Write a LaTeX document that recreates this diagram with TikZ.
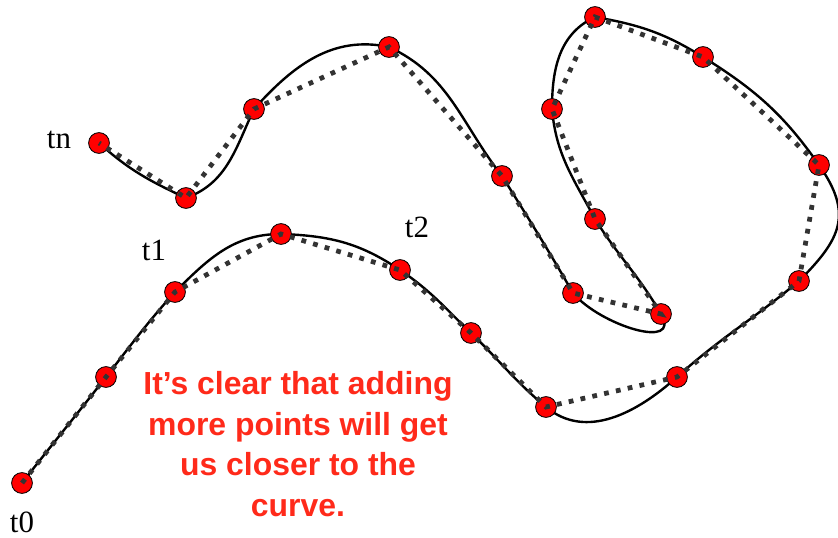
\documentclass[tikz,border=0pt]{standalone}
\usepackage{fontspec}
\setmainfont{Liberation Serif}
\newfontfamily\notefont{Liberation Sans}
\usetikzlibrary{backgrounds}
\definecolor{dotred}{HTML}{FF0000}
\definecolor{notered}{HTML}{FF2A1A}
\definecolor{chordgray}{HTML}{333333}

\begin{document}
\begin{tikzpicture}[
  x=0.025cm, y=0.025cm,
  sample/.style={
    circle, draw=black, line width=0.6pt, fill=dotred,
    minimum size=0.52cm, inner sep=0pt
  },
  truecurve/.style={draw=black, line width=1.7pt},
  chord/.style={draw=chordgray, line width=3.4pt, dash pattern=on 3.4pt off 5.2pt},
  tlbl/.style={font=\fontsize{22}{24}\selectfont, anchor=base, inner sep=0pt},
  note/.style={font=\notefont\bfseries\fontsize{22.7}{29}\selectfont,
    text=notered, align=center},
]

\useasboundingbox (0,0) rectangle (838,-538);

% =============================================
% Sample points along the curve (t0 ... tn)
% =============================================
\node[sample] (p0)  at (22,-483)  {};
\node[sample] (p1)  at (106,-377) {};
\node[sample] (p2)  at (175,-292) {};
\node[sample] (p3)  at (281,-234) {};
\node[sample] (p4)  at (400,-270) {};
\node[sample] (p5)  at (471,-333) {};
\node[sample] (p6)  at (546,-407) {};
\node[sample] (p7)  at (677,-377) {};
\node[sample] (p8)  at (799,-281) {};
\node[sample] (p9)  at (819,-165) {};
\node[sample] (p10) at (703,-57)  {};
\node[sample] (p11) at (595,-17)  {};
\node[sample] (p12) at (552,-109) {};
\node[sample] (p13) at (595,-219) {};
\node[sample] (p14) at (661,-314) {};
\node[sample] (p15) at (573,-293) {};
\node[sample] (p16) at (502,-176) {};
\node[sample] (p17) at (389,-47)  {};
\node[sample] (p18) at (254,-109) {};
\node[sample] (p19) at (186,-198) {};
\node[sample] (p20) at (99,-143)  {};

% =============================================
% Labels
% =============================================
\node[tlbl] (lt0) at (22,-532)  {t0};
\node[tlbl] (lt1) at (154,-261) {t1};
\node[tlbl] (lt2) at (417,-238) {t2};
\node[tlbl] (ltn) at (59,-149)  {tn};

\node[note] (msg) at (298,-444)
  {It’s clear that adding\\more points will get\\us closer to the\\curve.};

% =============================================
% The true curve (behind the points)
% =============================================
\begin{pgfonlayer}{background}
\draw[truecurve] (p0.center)
  to[out=52, in=232] (p1.center)
  to[out=52, in=228] (p2.center)
  to[out=45, in=180] (p3.center)
  to[out=-2, in=146] (p4.center)
  to[out=-34, in=136] (p5.center)
  to[out=-44, in=140] (p6.center)
  to[out=-40, in=222] (p7.center)
  to[out=42, in=220] (p8.center)
  to[out=45, in=305, looseness=1.3] (p9.center)
  to[out=125, in=-32] (p10.center)
  to[out=148, in=-10] (p11.center)
  to[out=205, in=90] (p12.center)
  to[out=-85, in=118] (p13.center)
  to[out=-58, in=120] (p14.center)
  to[out=-60, in=-50, looseness=1.2] (p15.center)
  to[out=120, in=-58] (p16.center)
  to[out=128, in=-25] (p17.center)
  to[out=168, in=48] (p18.center)
  to[out=245, in=20] (p19.center)
  to[out=155, in=-42] (p20.center);
\end{pgfonlayer}

% =============================================
% Straight-line approximation (on top)
% =============================================
\draw[chord] (p0.center) -- (p1.center) -- (p2.center) -- (p3.center)
  -- (p4.center) -- (p5.center) -- (p6.center) -- (p7.center)
  -- (p8.center) -- (p9.center) -- (p10.center) -- (p11.center)
  -- (p12.center) -- (p13.center) -- (p14.center) -- (p15.center)
  -- (p16.center) -- (p17.center) -- (p18.center) -- (p19.center)
  -- (p20.center);

\end{tikzpicture}
\end{document}
